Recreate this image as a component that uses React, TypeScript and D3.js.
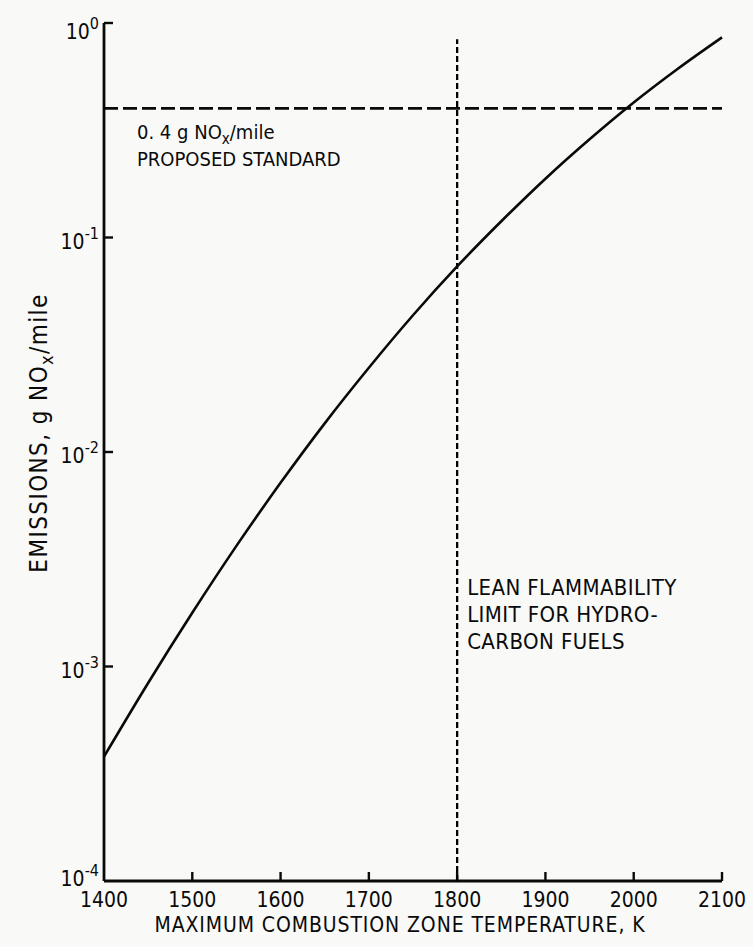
import React, { useRef, useEffect } from "react";
import * as d3 from "d3";

// temperature, K
const temps = [1400, 1450, 1500, 1550, 1600, 1650, 1700, 1750, 1800, 1850, 1900, 1950, 2000, 2050, 2100];
// emissions, g NOx/mile
const emissions = [
  3.8e-4, 8.38e-4, 1.78e-3, 3.65e-3, 7.18e-3, 0.0136, 0.0247, 0.0434, 0.0733, 0.119, 0.188, 0.287, 0.426,
  0.612, 0.857,
];
const xTicks = [1400, 1500, 1600, 1700, 1800, 1900, 2000, 2100];
const yTicks = [1e-4, 1e-3, 1e-2, 1e-1, 1];
const yExponents = ["-4", "-3", "-2", "-1", "0"];
const standard = 0.4;
const leanLimit = 1800;
const leanTop = 0.84;
const leanLines = ["LEAN FLAMMABILITY", "LIMIT FOR HYDRO-", "CARBON FUELS"];

const FONT = "'Liberation Sans Narrow', 'DejaVu Sans Condensed', 'Liberation Sans', sans-serif";

function App() {
  const canvas = useRef<SVGSVGElement>(null);

  useEffect(() => {
    const width = 753;
    const height = 947;
    const margin = { top: 23, right: 31, bottom: 66, left: 104 };

    const svg = d3.select(canvas.current).attr("width", width).attr("height", height);
    svg.selectAll("*").remove();

    svg.append("rect").attr("width", width).attr("height", height).attr("fill", "#f9f9f8");

    const x = d3.scaleLinear().domain([1400, 2100]).range([margin.left, width - margin.right]);
    const y = d3.scaleLog().domain([1e-4, 1]).range([height - margin.bottom, margin.top]);

    const g = svg.append("g").attr("font-family", FONT).attr("fill", "#0a0a0a");

    // axes lines
    g.append("line")
      .attr("x1", x(1400))
      .attr("x2", x(1400))
      .attr("y1", y(1e-4))
      .attr("y2", y(1))
      .attr("stroke", "#0a0a0a")
      .attr("stroke-width", 2.8);
    g.append("line")
      .attr("x1", x(1400))
      .attr("x2", x(2100))
      .attr("y1", y(1e-4))
      .attr("y2", y(1e-4))
      .attr("stroke", "#0a0a0a")
      .attr("stroke-width", 2.8);

    // x ticks
    g.selectAll(".xt")
      .data(xTicks.slice(1))
      .join("line")
      .attr("x1", (d) => x(d))
      .attr("x2", (d) => x(d))
      .attr("y1", y(1e-4))
      .attr("y2", y(1e-4) - 9)
      .attr("stroke", "#0a0a0a")
      .attr("stroke-width", 2.4);
    g.selectAll(".xl")
      .data(xTicks)
      .join("text")
      .attr("x", (d) => x(d))
      .attr("y", y(1e-4) + 26)
      .attr("text-anchor", "middle")
      .attr("font-size", 21)
      .text((d) => d);

    // y ticks (top one points right like a bracket)
    g.selectAll(".yt")
      .data(yTicks.slice(1))
      .join("line")
      .attr("x1", x(1400))
      .attr("x2", x(1400) + 9)
      .attr("y1", (d) => y(d))
      .attr("y2", (d) => y(d))
      .attr("stroke", "#0a0a0a")
      .attr("stroke-width", 2.4);
    const yl = g
      .selectAll(".yl")
      .data(yTicks)
      .join("text")
      .attr("x", x(1400) - 5)
      .attr("y", (d) => y(d) + (d === 1e-4 ? 5 : d === 1 ? 16 : 11))
      .attr("text-anchor", "end")
      .attr("font-size", 21);
    yl.append("tspan").text("10");
    yl.append("tspan")
      .attr("dy", -10)
      .attr("font-size", 16)
      .text((d, i) => yExponents[i]);

    // axis titles
    g.append("text")
      .attr("x", 400)
      .attr("y", height - 15)
      .attr("text-anchor", "middle")
      .attr("font-size", 21)
      .attr("letter-spacing", 0.9)
      .text("MAXIMUM COMBUSTION ZONE TEMPERATURE, K");

    const yTitle = g
      .append("text")
      .attr("transform", `translate(47, ${433}) rotate(-90)`)
      .attr("text-anchor", "middle")
      .attr("font-size", 24)
      .attr("letter-spacing", 1.4);
    yTitle.append("tspan").text("EMISSIONS, g NO");
    yTitle.append("tspan").attr("dy", 6).attr("font-size", 18).text("x");
    yTitle.append("tspan").attr("dy", -6).text("/mile");

    // proposed standard line
    g.append("line")
      .attr("x1", x(1400))
      .attr("x2", x(2100))
      .attr("y1", y(standard))
      .attr("y2", y(standard))
      .attr("stroke", "#0a0a0a")
      .attr("stroke-width", 2.8)
      .attr("stroke-dasharray", "14,5");
    const std1 = g.append("text").attr("x", 137).attr("y", y(standard) + 31).attr("font-size", 20);
    std1.append("tspan").text("0. 4 g NO");
    std1.append("tspan").attr("dy", 5).attr("font-size", 15).text("x");
    std1.append("tspan").attr("dy", -5).text("/mile");
    g.append("text")
      .attr("x", 137)
      .attr("y", y(standard) + 58)
      .attr("font-size", 20)
      .text("PROPOSED STANDARD");

    // lean flammability limit
    g.append("line")
      .attr("x1", x(leanLimit))
      .attr("x2", x(leanLimit))
      .attr("y1", y(1e-4))
      .attr("y2", y(leanTop))
      .attr("stroke", "#000")
      .attr("stroke-width", 2.3)
      .attr("stroke-dasharray", "6,3");
    g.selectAll(".lean")
      .data(leanLines)
      .join("text")
      .attr("x", x(leanLimit) + 10)
      .attr("y", (d, i) => 595 + i * 27)
      .attr("font-size", 22)
      .attr("letter-spacing", 0.4)
      .text((d) => d);

    // emissions curve
    const line = d3
      .line<number>()
      .x((d, i) => x(temps[i]))
      .y((d) => y(d))
      .curve(d3.curveMonotoneX);
    g.append("path")
      .datum(emissions)
      .attr("d", line)
      .attr("fill", "none")
      .attr("stroke", "#0a0a0a")
      .attr("stroke-width", 2.6);
  }, []);

  return (
    <div style={{ position: "absolute", left: 0, top: 0 }}>
      <svg ref={canvas} style={{ display: "block" }} />
    </div>
  );
}

export default App;
